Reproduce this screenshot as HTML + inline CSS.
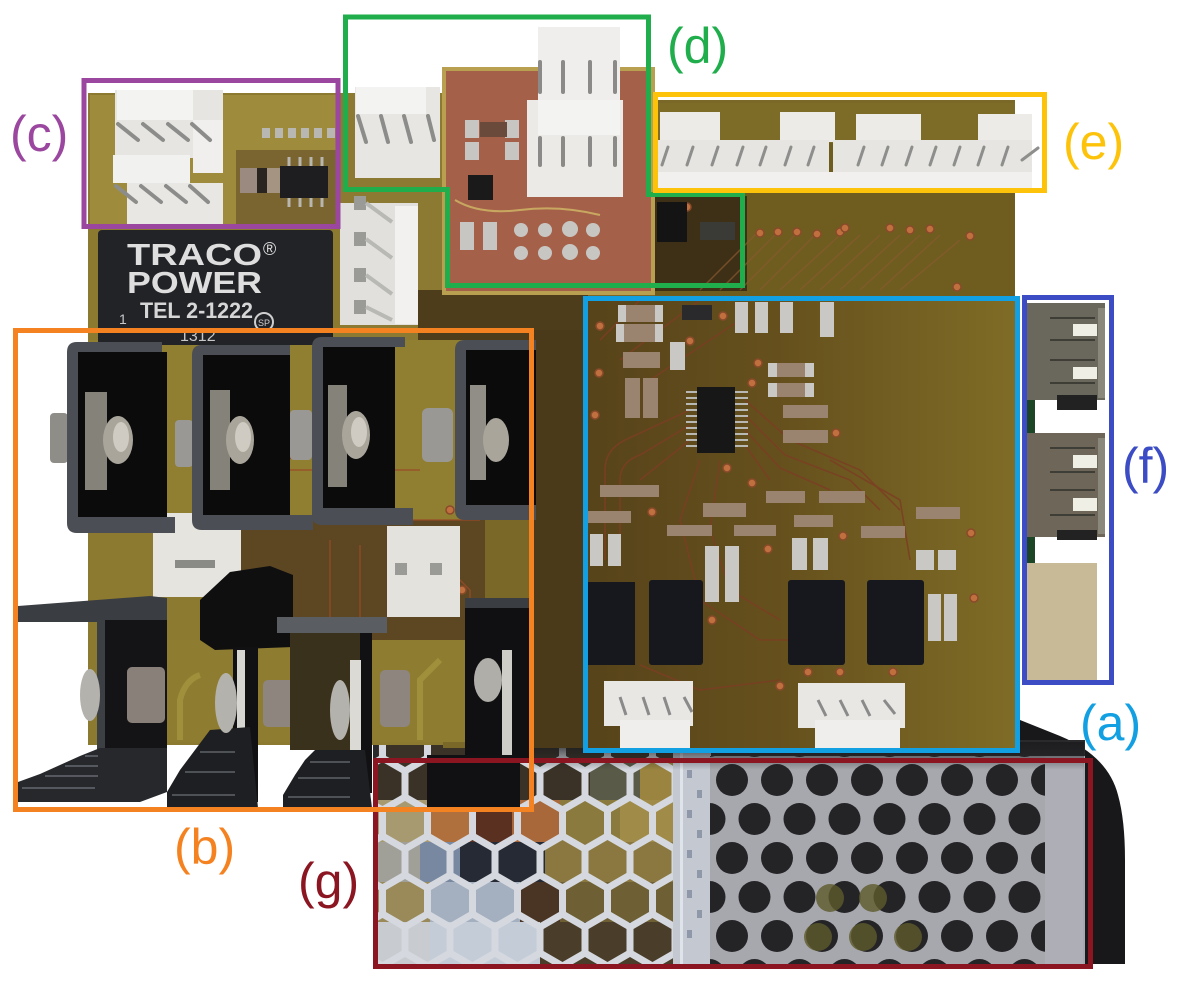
<!DOCTYPE html>
<html><head><meta charset="utf-8"><style>
html,body{margin:0;padding:0;background:#fff;}
svg{display:block;}
text{font-family:"Liberation Sans",sans-serif;}
</style></head><body>
<svg width="1181" height="986" viewBox="0 0 1181 986" xmlns="http://www.w3.org/2000/svg">
<defs>
 <linearGradient id="ga" x1="0" x2="1" y1="0" y2="0">
  <stop offset="0" stop-color="#57431a"/>
  <stop offset="0.45" stop-color="#65501d"/>
  <stop offset="1" stop-color="#7f6c26"/>
 </linearGradient>
 <linearGradient id="gtop" x1="0" x2="0" y1="0" y2="1">
  <stop offset="0" stop-color="#1c1c1f" stop-opacity="0.9"/>
  <stop offset="1" stop-color="#1c1c1f" stop-opacity="0"/>
 </linearGradient>
 <pattern id="hexp" patternUnits="userSpaceOnUse" x="427.5" y="721" width="45" height="78">
  <rect width="45" height="78" fill="#fff"/>
  <path fill="#000" d="M22.5,2L41.5,13L41.5,35L22.5,46L3.5,35L3.5,13Z M0,41L19,52L19,74L0,85L-19,74L-19,52Z M45,41L64,52L64,74L45,85L26,74L26,52Z M0,-37L19,-26L19,-4L0,7L-19,-4L-19,-26Z M45,-37L64,-26L64,-4L45,7L26,-4L26,-26Z"/>
 </pattern>
 <mask id="hexm" maskUnits="userSpaceOnUse" x="0" y="0" width="1181" height="986">
  <rect x="373" y="740" width="305" height="228" fill="url(#hexp)"/>
 </mask>
 <pattern id="circp" patternUnits="userSpaceOnUse" x="754.5" y="760.5" width="45" height="78">
  <circle cx="22.5" cy="19.5" r="16" fill="#242427"/>
  <circle cx="0" cy="58.5" r="16" fill="#242427"/>
  <circle cx="45" cy="58.5" r="16" fill="#242427"/>
 </pattern>
</defs>

<rect width="1181" height="986" fill="#fff"/>

<!-- black enclosure corner -->
<path d="M1015,718 L1060,736 Q1108,756 1118,795 Q1125,820 1125,860 L1125,964 L1080,964 L1080,750 L1015,750 Z" fill="#18181b"/>

<!-- PSU base -->
<rect x="373" y="740" width="712" height="225" fill="#2a2a2d"/>
<rect x="378" y="745" width="297" height="57" fill="#3a3226"/>
<rect x="590" y="760" width="50" height="40" fill="#5a5a48"/>
<rect x="640" y="760" width="35" height="40" fill="#9a8440"/>
<rect x="378" y="800" width="52" height="42" fill="#a89a70"/>
<rect x="430" y="800" width="40" height="42" fill="#b0703e"/>
<rect x="470" y="800" width="42" height="42" fill="#5a3020"/>
<rect x="512" y="800" width="48" height="42" fill="#a8683a"/>
<rect x="560" y="800" width="60" height="42" fill="#8a7a3e"/>
<rect x="620" y="800" width="55" height="42" fill="#a08c48"/>
<rect x="378" y="842" width="42" height="40" fill="#a0a098"/>
<rect x="420" y="842" width="40" height="40" fill="#7888a0"/>
<rect x="460" y="842" width="85" height="40" fill="#262a34"/>
<rect x="545" y="842" width="130" height="40" fill="#8a7840"/>
<rect x="378" y="882" width="52" height="40" fill="#9a8a5a"/>
<rect x="430" y="882" width="90" height="40" fill="#a4b0c0"/>
<rect x="520" y="882" width="40" height="40" fill="#4a3424"/>
<rect x="560" y="882" width="115" height="40" fill="#6e6034"/>
<rect x="378" y="922" width="52" height="43" fill="#c8ccd0"/>
<rect x="430" y="922" width="110" height="43" fill="#c4ccd8"/>
<rect x="540" y="922" width="135" height="43" fill="#4a3e2a"/>
<rect x="373" y="740" width="305" height="228" fill="#d5d9df" mask="url(#hexm)"/>
<!-- corner strip -->
<rect x="673" y="752" width="38" height="213" fill="#c3c8d1"/>
<rect x="680" y="752" width="3" height="213" fill="#dfe3ea"/>
<g fill="#8f98a8">
<rect x="687" y="770" width="5" height="8"/><rect x="697" y="790" width="5" height="8"/><rect x="687" y="810" width="5" height="8"/><rect x="697" y="830" width="5" height="8"/><rect x="687" y="850" width="5" height="8"/><rect x="697" y="870" width="5" height="8"/><rect x="687" y="890" width="5" height="8"/><rect x="697" y="910" width="5" height="8"/><rect x="687" y="930" width="5" height="8"/>
</g>
<!-- perforated plate -->
<rect x="710" y="756" width="375" height="209" fill="#a7a8ad"/>
<rect x="710" y="756" width="350" height="209" fill="url(#circp)"/>
<rect x="1045" y="756" width="38" height="209" fill="#adaeb6"/>
<g fill="#5e5a2c" opacity="0.8">
<circle cx="830" cy="898" r="14"/><circle cx="873" cy="898" r="14"/><circle cx="818" cy="937" r="14"/><circle cx="863" cy="937" r="14"/><circle cx="908" cy="937" r="14"/>
</g>
<rect x="534" y="742" width="550" height="28" fill="url(#gtop)"/>

<!-- BOARD -->
<rect x="88" y="93" width="356" height="652" fill="#8c7a31"/>
<rect x="443" y="100" width="572" height="648" fill="#7a6828"/>
<rect x="90" y="95" width="250" height="133" fill="#9e8c3c"/>
<rect x="236" y="150" width="102" height="75" fill="#7a6430"/>
<rect x="340" y="97" width="104" height="243" fill="#8c7a32"/>
<rect x="655" y="103" width="360" height="193" fill="#6e5d1f"/>
<rect x="655" y="103" width="360" height="40" fill="#7d6c28"/>
<rect x="655" y="196" width="92" height="95" fill="#3e3016"/>
<rect x="418" y="290" width="170" height="50" fill="#4e3d1a"/>
<rect x="530" y="330" width="56" height="418" fill="#4a3a1a"/>
<rect x="583" y="296" width="432" height="452" fill="url(#ga)"/>
<rect x="88" y="340" width="445" height="180" fill="#907e31"/>
<rect x="240" y="520" width="245" height="120" fill="#5c4722"/>
<rect x="100" y="640" width="365" height="102" fill="#8e7c30"/>
<g stroke="#a89740" stroke-width="6" fill="none" opacity="0.7">
<path d="M300,740 V690 Q300,670 320,665 H360"/><path d="M420,740 V680 L440,660"/><path d="M180,740 V700 Q185,680 200,675"/>
</g>
<g stroke="#9a4a28" stroke-width="1.5" fill="none" opacity="0.8">
<path d="M250,470 H420"/><path d="M250,520 H480"/><path d="M330,540 V640"/><path d="M360,545 V640"/><path d="M440,560 L470,590 V640"/>
</g>

<g stroke="#7c3e24" stroke-width="1.6" fill="none" opacity="0.85">
<path d="M605,560 V470 Q605,450 625,440 L690,410"/>
<path d="M620,560 V480 Q620,462 640,455 L690,425"/>
<path d="M640,480 L690,440"/>
<path d="M745,400 L790,440 L860,470 L900,510"/>
<path d="M745,415 L785,455 L850,480 L880,510"/>
<path d="M745,430 L780,468 L830,490"/>
<path d="M745,445 L770,480"/>
<path d="M700,460 L680,520 L700,600 L760,640 L790,640"/>
<path d="M720,460 L710,530 L730,590 L780,620"/>
<path d="M600,340 L640,300"/><path d="M620,360 L700,300"/><path d="M650,380 L740,320"/>
<path d="M830,460 L900,500 L910,560"/>
<path d="M640,665 L700,690 L780,680"/>
</g>
<g stroke="#8a5a30" stroke-width="1.5" fill="none" opacity="0.7">
<path d="M700,290 L760,230"/><path d="M720,290 L780,230"/><path d="M740,290 L800,230"/><path d="M760,290 L820,230"/><path d="M780,290 L840,235"/><path d="M800,290 L860,235"/><path d="M820,290 L880,235"/><path d="M840,290 L900,235"/><path d="M860,290 L920,235"/><path d="M880,290 L940,235"/><path d="M900,290 L960,240"/>
</g>
<g fill="#c0703f" stroke="#8a4a2a" stroke-width="1.5">
<circle cx="797" cy="232" r="4"/><circle cx="817" cy="234" r="4"/><circle cx="840" cy="232" r="4"/><circle cx="845" cy="228" r="4"/><circle cx="890" cy="228" r="4"/><circle cx="910" cy="230" r="4"/><circle cx="930" cy="229" r="4"/><circle cx="970" cy="236" r="4"/><circle cx="957" cy="287" r="4"/><circle cx="760" cy="233" r="4"/><circle cx="778" cy="232" r="4"/><circle cx="687" cy="207" r="4"/>
<circle cx="723" cy="316" r="4"/><circle cx="600" cy="326" r="4"/><circle cx="690" cy="341" r="4"/><circle cx="599" cy="373" r="4"/><circle cx="758" cy="363" r="4"/><circle cx="752" cy="383" r="4"/><circle cx="836" cy="433" r="4"/><circle cx="595" cy="415" r="4"/>
<circle cx="727" cy="468" r="4"/><circle cx="752" cy="483" r="4"/><circle cx="652" cy="512" r="4"/><circle cx="768" cy="549" r="4"/><circle cx="843" cy="536" r="4"/><circle cx="971" cy="533" r="4"/><circle cx="974" cy="598" r="4"/><circle cx="712" cy="620" r="4"/><circle cx="808" cy="672" r="4"/><circle cx="840" cy="672" r="4"/><circle cx="893" cy="672" r="4"/><circle cx="780" cy="686" r="4"/>
<circle cx="200" cy="500" r="4"/><circle cx="288" cy="455" r="4"/><circle cx="385" cy="508" r="4"/><circle cx="450" cy="510" r="4"/><circle cx="316" cy="645" r="4"/><circle cx="462" cy="590" r="4"/>
</g>

<g>
<g fill="#9a8470">
<rect x="620" y="305" width="42" height="17"/><rect x="618" y="324" width="44" height="18"/><rect x="623" y="352" width="37" height="16"/>
<rect x="625" y="378" width="15" height="40"/><rect x="643" y="378" width="15" height="40"/>
<rect x="768" y="363" width="45" height="14"/><rect x="768" y="383" width="45" height="14"/><rect x="783" y="405" width="45" height="13"/><rect x="783" y="430" width="45" height="13"/>
<rect x="600" y="485" width="59" height="12"/><rect x="588" y="511" width="43" height="12"/><rect x="667" y="525" width="45" height="11"/><rect x="703" y="503" width="43" height="14"/><rect x="734" y="525" width="42" height="11"/>
<rect x="766" y="491" width="39" height="12"/><rect x="819" y="491" width="46" height="12"/><rect x="794" y="515" width="39" height="12"/><rect x="861" y="526" width="44" height="12"/><rect x="916" y="507" width="44" height="12"/>
</g>
<g fill="#c9c8c4">
<rect x="618" y="305" width="8" height="17"/><rect x="655" y="305" width="8" height="17"/><rect x="616" y="324" width="8" height="18"/><rect x="655" y="324" width="8" height="18"/>
<rect x="735" y="302" width="13" height="31"/><rect x="755" y="302" width="13" height="31"/><rect x="780" y="302" width="13" height="31"/><rect x="820" y="302" width="14" height="35"/>
<rect x="670" y="342" width="15" height="28"/><rect x="768" y="363" width="9" height="14"/><rect x="805" y="363" width="9" height="14"/><rect x="768" y="383" width="9" height="14"/><rect x="805" y="383" width="9" height="14"/>
<rect x="590" y="534" width="13" height="32"/><rect x="608" y="534" width="13" height="32"/><rect x="705" y="546" width="14" height="56"/><rect x="725" y="546" width="14" height="56"/>
<rect x="792" y="538" width="15" height="32"/><rect x="813" y="538" width="15" height="32"/><rect x="916" y="550" width="18" height="20"/><rect x="938" y="550" width="18" height="20"/><rect x="928" y="594" width="13" height="47"/><rect x="944" y="594" width="13" height="47"/>
</g>
<rect x="682" y="305" width="30" height="15" fill="#2a2a2c"/>
<g stroke="#b8b8b4" stroke-width="2">
<path d="M686,392H698M686,398H698M686,404H698M686,410H698M686,416H698M686,422H698M686,428H698M686,434H698M686,440H698M686,446H698"/>
<path d="M735,392H748M735,398H748M735,404H748M735,410H748M735,416H748M735,422H748M735,428H748M735,434H748M735,440H748M735,446H748"/>
</g>
<rect x="697" y="387" width="38" height="66" fill="#171718"/>
</g>
<g fill="#16181e">
<rect x="586" y="582" width="49" height="83"/><rect x="649" y="580" width="54" height="85" rx="3"/><rect x="788" y="580" width="57" height="85" rx="3"/><rect x="867" y="580" width="57" height="85" rx="3"/>
</g>
<g>
<rect x="604" y="681" width="89" height="45" fill="#e8e7e4"/><rect x="620" y="720" width="70" height="30" fill="#efeeec"/>
<rect x="798" y="683" width="107" height="45" fill="#e8e7e4"/><rect x="815" y="720" width="85" height="30" fill="#efeeec"/>
<g stroke="#8a8a8a" stroke-width="3"><path d="M620,697 L626,715M643,697 L649,715M664,697 L670,715M684,697 L692,712"/><path d="M818,700 L826,716M840,700 L848,716M862,700 L870,716M884,700 L895,714"/></g>
</g>

<rect x="442" y="67" width="213" height="228" fill="#b8a050"/>
<rect x="446" y="71" width="205" height="220" fill="#a5604a"/>
<g fill="#c7c6c2">
<rect x="465" y="120" width="14" height="18"/><rect x="505" y="120" width="14" height="18"/><rect x="465" y="142" width="14" height="18"/><rect x="505" y="142" width="14" height="18"/>
<rect x="460" y="222" width="14" height="28"/><rect x="483" y="222" width="14" height="28"/>
<circle cx="521" cy="230" r="7"/><circle cx="545" cy="230" r="7"/><circle cx="570" cy="229" r="8"/><circle cx="593" cy="230" r="7"/>
<circle cx="521" cy="253" r="7"/><circle cx="545" cy="253" r="7"/><circle cx="570" cy="252" r="8"/><circle cx="593" cy="253" r="7"/>
</g>
<rect x="480" y="122" width="27" height="15" fill="#6a4a3a"/>
<rect x="468" y="175" width="25" height="25" fill="#1a1a1a"/>
<path d="M455,200 Q480,215 520,210 Q560,205 600,215" stroke="#c8a860" stroke-width="2" fill="none"/>

<rect x="657" y="202" width="30" height="40" fill="#141414"/>
<rect x="700" y="222" width="35" height="18" fill="#3a3a36"/>

<rect x="240" y="168" width="17" height="25" fill="#9a8a80"/>
<rect x="257" y="168" width="10" height="25" fill="#2a2420"/>
<rect x="267" y="168" width="13" height="25" fill="#a69482"/>
<g stroke="#b8b6b0" stroke-width="3"><path d="M289,157V167M300,157V167M311,157V167M322,157V167M289,197V207M300,197V207M311,197V207M322,197V207"/></g>
<rect x="280" y="166" width="48" height="32" fill="#1e1e20"/>
<g fill="#b9b7b1"><rect x="262" y="128" width="8" height="10"/><rect x="275" y="128" width="8" height="10"/><rect x="288" y="128" width="8" height="10"/><rect x="301" y="128" width="8" height="10"/><rect x="314" y="128" width="8" height="10"/><rect x="327" y="128" width="8" height="10"/></g>

<g>
<rect x="115" y="90" width="108" height="68" fill="#e6e5e2"/>
<rect x="117" y="90" width="76" height="30" fill="#f3f3f2"/>
<rect x="193" y="120" width="30" height="53" fill="#f0efed"/>
<rect x="113" y="155" width="77" height="28" fill="#f1f1ef"/>
<rect x="127" y="183" width="96" height="41" fill="#e8e7e4"/>
<g stroke="#8c8c8a" stroke-width="4" stroke-linecap="round">
<path d="M118,124 L138,140M143,124 L163,140M168,124 L188,140M192,124 L210,140"/>
<path d="M116,186 L136,202M141,186 L161,202M166,186 L186,202M190,186 L208,202"/>
</g>
</g>

<g>
<rect x="355" y="87" width="85" height="91" fill="#e7e6e3"/>
<rect x="356" y="87" width="70" height="27" fill="#f3f3f2"/>
<g stroke="#8c8c8a" stroke-width="4" stroke-linecap="round"><path d="M358,116 L366,142M381,116 L388,142M404,116 L411,142M428,116 L434,140"/></g>
<rect x="538" y="27" width="82" height="73" fill="#efeeec"/>
<rect x="527" y="100" width="96" height="97" fill="#ebeae7"/>
<rect x="538" y="100" width="82" height="35" fill="#f3f3f2"/>
<g stroke="#8c8a88" stroke-width="4" stroke-linecap="round"><path d="M540,62V92M563,62V92M590,62V92M615,62V92"/><path d="M540,138V165M563,138V165M590,138V165M615,138V165"/></g>
</g>

<g>
<rect x="340" y="203" width="78" height="122" fill="#e2e0dc"/>
<rect x="395" y="206" width="23" height="118" fill="#f2f1ef"/>
<g fill="#9a9a96"><rect x="354" y="196" width="12" height="14"/><rect x="354" y="232" width="12" height="14"/><rect x="354" y="268" width="12" height="14"/><rect x="354" y="300" width="12" height="14"/></g>
<g stroke="#b8b8b4" stroke-width="4"><path d="M366,203 L392,222M366,239 L392,258M366,275 L392,294M366,307 L392,320"/></g>
</g>

<g>
<rect x="660" y="112" width="60" height="30" fill="#ecebe8"/><rect x="780" y="112" width="55" height="30" fill="#ecebe8"/>
<rect x="658" y="140" width="171" height="50" fill="#e6e5e2"/>
<rect x="856" y="114" width="65" height="28" fill="#ecebe8"/><rect x="978" y="114" width="54" height="28" fill="#ecebe8"/>
<rect x="833" y="140" width="199" height="50" fill="#e6e5e2"/>
<rect x="658" y="172" width="374" height="18" fill="#f1f0ee"/>
<g stroke="#8e8e8c" stroke-width="3" stroke-linecap="round">
<path d="M662,165 L668,147M687,165 L693,147M712,165 L718,147M737,165 L743,147M760,165 L766,147M785,165 L791,147M808,165 L814,147"/>
<path d="M858,165 L864,147M882,165 L888,147M906,165 L912,147M930,165 L936,147M954,165 L960,147M978,165 L984,147M1002,165 L1008,147M1022,160 L1038,148"/>
</g>
</g>

<rect x="98" y="230" width="235" height="115" rx="4" fill="#222327"/>
<text x="127" y="265" font-size="31" font-weight="bold" fill="#dedede" textLength="135" lengthAdjust="spacingAndGlyphs">TRACO</text>
<text x="263" y="255" font-size="18" fill="#dedede">®</text>
<text x="127" y="293" font-size="31" font-weight="bold" fill="#dedede" textLength="135" lengthAdjust="spacingAndGlyphs">POWER</text>
<text x="140" y="318" font-size="22" font-weight="bold" fill="#d6d6d6" textLength="113" lengthAdjust="spacingAndGlyphs">TEL 2-1222</text>
<text x="119" y="324" font-size="14" fill="#c8c8c8">1</text>
<text x="180" y="341" font-size="16" fill="#c8c8c8">1312</text>
<circle cx="264" cy="322" r="9" fill="none" stroke="#cfcfcf" stroke-width="2"/>
<text x="258" y="326" font-size="9" fill="#cfcfcf">SP</text>

<rect x="153" y="513" width="88" height="84" fill="#e6e4de"/>
<rect x="175" y="560" width="40" height="8" fill="#8a8a86"/>
<rect x="387" y="526" width="73" height="91" fill="#e4e2dc"/>
<rect x="395" y="563" width="12" height="12" fill="#9a9a96"/><rect x="430" y="563" width="12" height="12" fill="#9a9a96"/>

<g>
<rect x="50" y="413" width="18" height="50" rx="4" fill="#8f8d88"/>
<path d="M77,342 H162 V352 H78 V517 H175 V533 H77 Q67,533 67,523 V352 Q67,342 77,342 Z" fill="#4b4e54"/>
<rect x="78" y="352" width="89" height="165" fill="#0b0b0c"/>
<rect x="85" y="392" width="22" height="98" fill="#858279"/>
<ellipse cx="118" cy="440" rx="15" ry="24" fill="#a9a59b"/><ellipse cx="121" cy="437" rx="8" ry="15" fill="#cfcbc2"/>
<rect x="175" y="420" width="18" height="47" rx="4" fill="#9a9894"/>

<path d="M202,345 H290 V355 H203 V515 H313 V530 H202 Q192,530 192,520 V355 Q192,345 202,345 Z" fill="#4b4e54"/>
<rect x="203" y="355" width="87" height="160" fill="#0b0b0c"/>
<rect x="210" y="390" width="20" height="100" fill="#858279"/>
<ellipse cx="240" cy="440" rx="14" ry="24" fill="#a9a59b"/><ellipse cx="243" cy="437" rx="8" ry="15" fill="#cfcbc2"/>
<rect x="290" y="410" width="22" height="50" rx="4" fill="#9a9894"/>

<path d="M322,337 H405 V347 H323 V508 H413 V525 H322 Q312,525 312,515 V347 Q312,337 322,337 Z" fill="#4b4e54"/>
<rect x="323" y="347" width="72" height="161" fill="#0b0b0c"/>
<rect x="328" y="385" width="19" height="102" fill="#858279"/>
<ellipse cx="356" cy="435" rx="14" ry="24" fill="#a9a59b"/><ellipse cx="359" cy="432" rx="8" ry="15" fill="#cfcbc2"/>
<rect x="422" y="408" width="31" height="54" rx="6" fill="#9a9894"/>

<path d="M465,340 H536 V350 H466 V505 H536 V520 H465 Q455,520 455,510 V350 Q455,340 465,340 Z" fill="#4b4e54"/>
<rect x="466" y="350" width="70" height="155" fill="#0b0b0c"/>
<rect x="470" y="385" width="16" height="95" fill="#908e86"/>
<ellipse cx="496" cy="440" rx="13" ry="22" fill="#a9a59b"/>
</g>

<g>
<path d="M18,606 L150,596 L167,598 L167,622 L18,622 Z" fill="#3a3d42"/>
<rect x="97" y="620" width="70" height="170" fill="#141416"/>
<rect x="97" y="620" width="8" height="170" fill="#3c3f44"/>
<path d="M18,782 L40,774 L60,765 L80,756 L100,748 L167,748 L167,792 L140,802 L18,802 Z" fill="#26282c"/>
<g stroke="#55585e" stroke-width="2"><path d="M22,788 H95M45,776 H98M65,766 H98M85,756 H98"/></g>
<ellipse cx="90" cy="695" rx="10" ry="26" fill="#b4b2ac"/>
<rect x="127" y="667" width="38" height="56" rx="5" fill="#8a807a"/>
<path d="M200,600 L230,572 L270,566 L293,575 L293,647 L215,650 L200,640 Z" fill="#0f0f10"/>
<rect x="233" y="647" width="25" height="155" fill="#111113"/>
<rect x="237" y="650" width="8" height="110" fill="#d8d6d0"/>
<path d="M167,792 L180,770 L195,750 L210,730 L250,727 L258,808 L167,808 Z" fill="#1e1f22"/>
<g stroke="#4e5156" stroke-width="2"><path d="M172,795 H235M185,772 H235M200,752 H235"/></g>
<ellipse cx="226" cy="703" rx="11" ry="30" fill="#b4b2ac"/>
<rect x="263" y="680" width="34" height="47" rx="5" fill="#8d857e"/>
<rect x="290" y="633" width="78" height="117" fill="#3a311c"/>
<rect x="277" y="617" width="110" height="16" fill="#5a5d62"/>
<rect x="360" y="633" width="12" height="160" fill="#111113"/>
<rect x="350" y="660" width="11" height="100" fill="#dcdad4"/>
<ellipse cx="340" cy="710" rx="10" ry="30" fill="#b4b2ac"/>
<rect x="380" y="670" width="30" height="57" rx="5" fill="#8d857e"/>
<path d="M283,795 L295,775 L305,760 L315,750 L365,750 L372,808 L283,808 Z" fill="#1e1f22"/>
<g stroke="#4e5156" stroke-width="2"><path d="M288,797 H350M298,778 H350M310,762 H350"/></g>
<rect x="465" y="598" width="65" height="162" fill="#101012"/>
<rect x="465" y="598" width="65" height="10" fill="#3a3d42"/>
<ellipse cx="488" cy="680" rx="14" ry="22" fill="#b0aea8"/>
<rect x="502" y="650" width="10" height="110" fill="#cfcdc8"/>
<rect x="427" y="755" width="93" height="55" fill="#111113"/>
</g>

<g>
<rect x="1025" y="303" width="80" height="97" fill="#6a685c"/>
<rect x="1098" y="308" width="7" height="90" fill="#8a887a"/>
<g stroke="#3e3d36" stroke-width="2"><path d="M1050,318 H1095M1050,340 H1095M1050,360 H1095M1050,383 H1095"/></g>
<rect x="1073" y="324" width="24" height="12" fill="#f0efe6"/><rect x="1073" y="367" width="24" height="12" fill="#f0efe6"/>
<rect x="1057" y="395" width="40" height="15" fill="#222"/>
<rect x="1025" y="400" width="10" height="33" fill="#1d4627"/>
<rect x="1025" y="433" width="80" height="104" fill="#6f665a"/>
<rect x="1098" y="438" width="7" height="96" fill="#8a887a"/>
<g stroke="#3e3d36" stroke-width="2"><path d="M1050,448 H1095M1050,472 H1095M1050,490 H1095M1050,515 H1095"/></g>
<rect x="1073" y="455" width="24" height="13" fill="#f0efe6"/><rect x="1073" y="498" width="24" height="13" fill="#f0efe6"/>
<rect x="1057" y="530" width="40" height="10" fill="#222"/>
<rect x="1025" y="537" width="10" height="26" fill="#1d4627"/>
<rect x="1025" y="563" width="72" height="117" fill="#c8ba97"/>
</g>

<g fill="none" stroke-width="5">
<rect x="84" y="80.5" width="254" height="146" stroke="#9b479f"/>
<path d="M345.5,17 H648.5 V194.5 H742.5 V285.5 H447.5 V189.5 H345.5 Z" stroke="#1fae4b"/>
<rect x="655.5" y="94.5" width="389" height="96" stroke="#fcc30a"/>
<rect x="585.5" y="298.5" width="432" height="452" stroke="#12a0e3"/>
<rect x="1024.5" y="297.5" width="87" height="385" stroke="#3c4cc4"/>
<rect x="375.5" y="760.5" width="715" height="206" stroke="#8b1520"/>
<rect x="15.5" y="330.5" width="516" height="479" stroke="#f58220"/>
</g>

<g font-size="50">
<text x="10" y="151" fill="#9b479f">(c)</text>
<text x="667" y="63" fill="#1fae4b">(d)</text>
<text x="1063" y="159" fill="#fcc30a">(e)</text>
<text x="1122" y="483" fill="#3c4cc4">(f)</text>
<text x="1080" y="740" fill="#12a0e3">(a)</text>
<text x="174" y="864" fill="#f58220">(b)</text>
<text x="298" y="898" fill="#8b1520">(g)</text>
</g>
</svg>
</body></html>
